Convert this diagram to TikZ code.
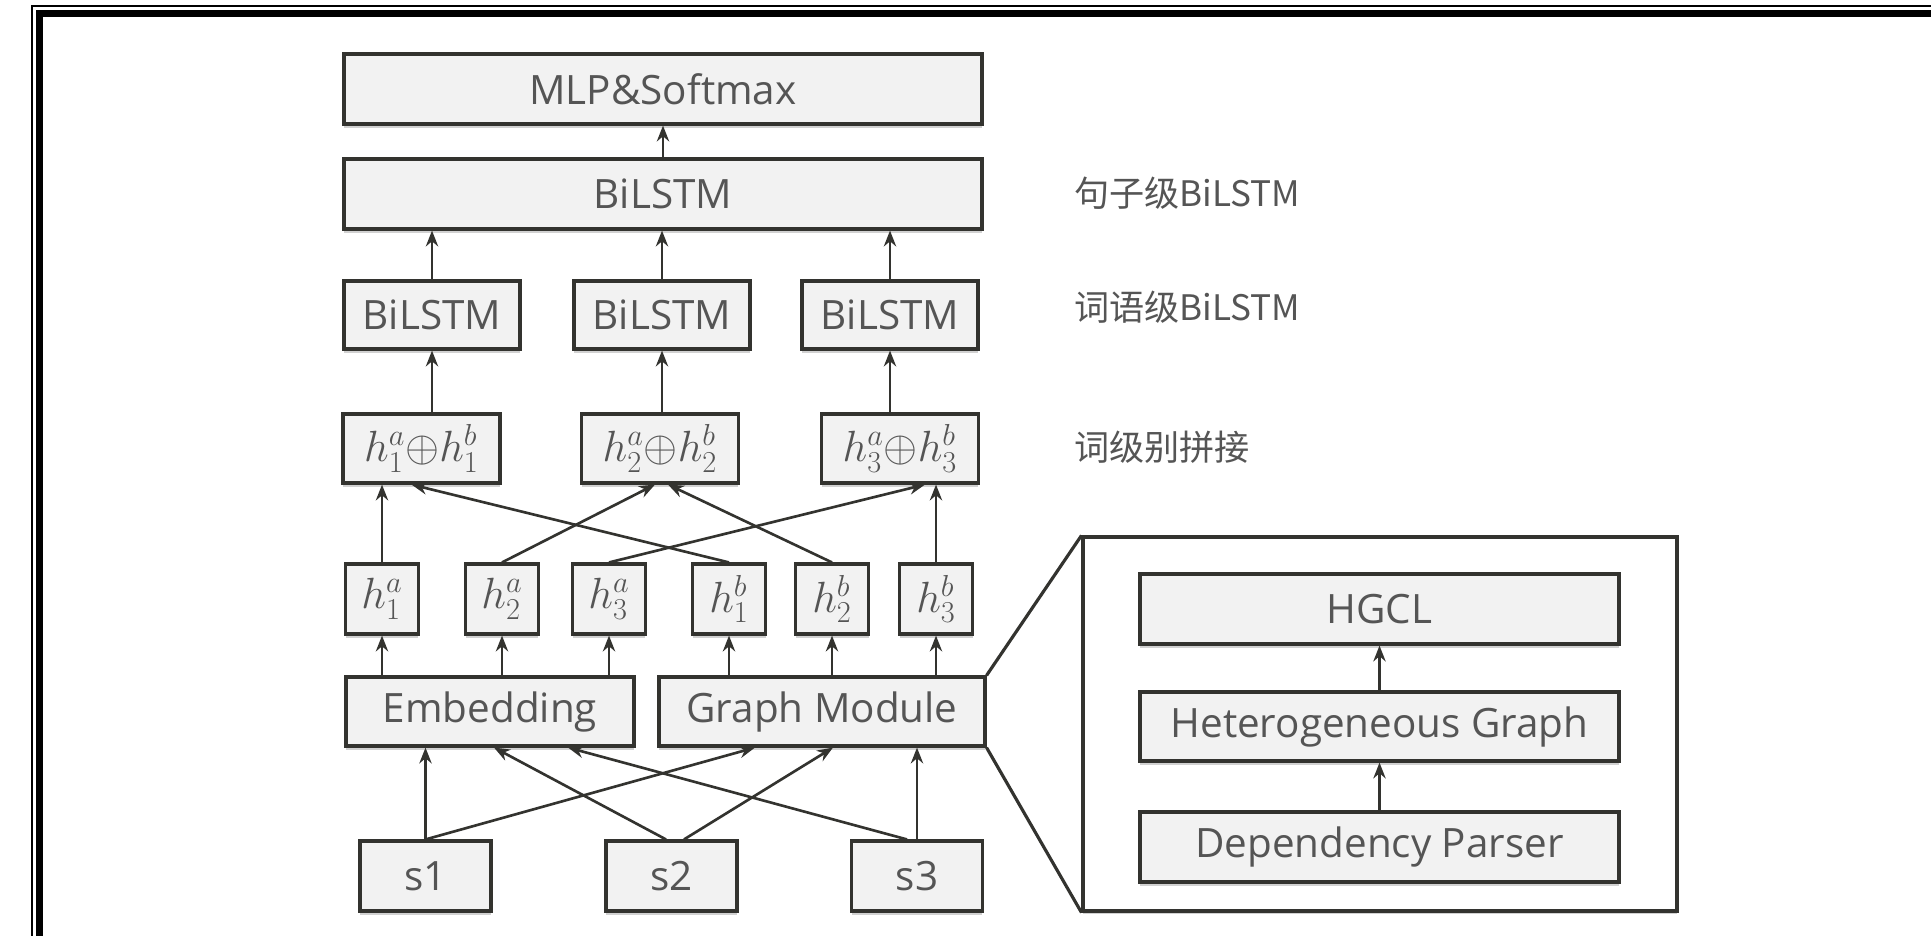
\documentclass[tikz,border=0pt]{standalone}
\usepackage{fontspec}
\setmainfont{Open Sans}
\newfontfamily\cjk{Noto Sans CJK SC}
\usetikzlibrary{arrows.meta,shadows}
\definecolor{boxfill}{HTML}{F2F2F2}
\definecolor{boxline}{HTML}{33332F}
\definecolor{txtgray}{HTML}{555555}
\tikzset{
  blk/.style={draw=boxline,fill=boxfill,line width=1.8pt,text=txtgray,inner sep=0pt,
    font=\fontsize{23}{27}\selectfont,
    drop shadow={shadow xshift=0pt,shadow yshift=-2pt,opacity=0.18,fill=black}},
  mathblk/.style={blk,font=\fontsize{27}{31}\selectfont},
  hblk/.style={mathblk,minimum width=1.46cm,minimum height=1.4cm},
  arr/.style={-{Stealth[length=9pt,width=7pt]},line width=1.5pt,draw=boxline},
  note/.style={anchor=west,text=txtgray,font=\cjk\fontsize{20}{24}\selectfont},
}
\begin{document}
\begin{tikzpicture}[x=0.02cm,y=-0.02cm]
 \useasboundingbox (0,0) rectangle (1931,936);
 % frame
 \draw[line width=1.1pt] (32,936)--(32,6)--(1931,6);
 \draw[line width=4pt] (39.5,936)--(39.5,13.5)--(1931,13.5);
 % top
 \node[blk,minimum width=12.76cm,minimum height=1.4cm] (mlp) at (663,89) {MLP\&Softmax};
 \node[blk,minimum width=12.76cm,minimum height=1.4cm] (sent) at (663,194) {BiLSTM};
 \node[blk,minimum width=3.52cm,minimum height=1.36cm] (w1) at (432,315) {BiLSTM};
 \node[blk,minimum width=3.52cm,minimum height=1.36cm] (w2) at (662,315) {BiLSTM};
 \node[blk,minimum width=3.52cm,minimum height=1.36cm] (w3) at (890,315) {BiLSTM};
 \node[mathblk,minimum width=3.14cm,minimum height=1.38cm] (c1) at (421.5,448.5) {$h_1^a{\oplus}h_1^b$};
 \node[mathblk,minimum width=3.14cm,minimum height=1.38cm] (c2) at (660,448.5) {$h_2^a{\oplus}h_2^b$};
 \node[mathblk,minimum width=3.14cm,minimum height=1.38cm] (c3) at (900,448.5) {$h_3^a{\oplus}h_3^b$};
 % hidden states
 \node[hblk] (h1a) at (382,599) {$h_1^a$};
 \node[hblk] (h2a) at (502,599) {$h_2^a$};
 \node[hblk] (h3a) at (609,599) {$h_3^a$};
 \node[hblk] (h1b) at (729,599) {$h_1^b$};
 \node[hblk] (h2b) at (832,599) {$h_2^b$};
 \node[hblk] (h3b) at (936,599) {$h_3^b$};
 \node[blk,minimum width=5.76cm,minimum height=1.38cm] (emb) at (490,711.5) {Embedding};
 \node[blk,minimum width=6.52cm,minimum height=1.38cm] (gm) at (822,711.5) {Graph Module};
 % sentences
 \node[blk,minimum width=2.62cm,minimum height=1.4cm] (s1) at (425.5,876) {s1};
 \node[blk,minimum width=2.62cm,minimum height=1.4cm] (s2) at (671.5,876) {s2};
 \node[blk,minimum width=2.62cm,minimum height=1.4cm] (s3) at (917,876) {s3};
 % graph module detail
 \node[draw=boxline,fill=white,line width=1.8pt,minimum width=11.88cm,minimum height=7.48cm,
   drop shadow={shadow xshift=0pt,shadow yshift=-2pt,opacity=0.18,fill=black}] (zoom) at (1380,724) {};
 \node[blk,minimum width=9.58cm,minimum height=1.4cm] (hgcl) at (1379.5,609) {HGCL};
 \node[blk,minimum width=9.58cm,minimum height=1.38cm] (hg) at (1379.5,726.5) {Heterogeneous Graph};
 \node[blk,minimum width=9.58cm,minimum height=1.4cm] (dp) at (1379.5,847) {Dependency Parser};
 \draw[draw=boxline,line width=1.8pt] (gm.north east)--(zoom.north west);
 \draw[draw=boxline,line width=1.8pt] (gm.south east)--(zoom.south west);
 \draw[arr] (hg)--(hgcl);
 \draw[arr] (dp)--(hg);
 % labels
 \node[note] (lsent) at (1068,193) {句子级BiLSTM};
 \node[note] (lword) at (1068,307) {词语级BiLSTM};
 \node[note] (lcat) at (1068,447) {词级别拼接};
 % arrows
 \draw[arr] (sent)--(mlp);
 \foreach \w in {w1,w2,w3}
   \draw[arr] (\w.north)--(\w.north |- sent.south);
 \draw[arr] (w1.south |- c1.north)--(w1.south);
 \draw[arr] (w2.south |- c2.north)--(w2.south);
 \draw[arr] (w3.south |- c3.north)--(w3.south);
 \draw[arr] (h1a.north)--(h1a.north |- c1.south);
 \draw[arr] (h1b.north)--([xshift=-0.2cm]c1.south);
 \draw[arr] (h2a.north)--([xshift=-0.1cm]c2.south);
 \draw[arr] (h2b.north)--([xshift=0.16cm]c2.south);
 \draw[arr] (h3a.north)--([xshift=0.5cm]c3.south);
 \draw[arr] (h3b.north)--(h3b.north |- c3.south);
 \foreach \h in {h1a,h2a,h3a}
   \draw[arr] (\h.south |- emb.north)--(\h.south);
 \foreach \h in {h1b,h2b,h3b}
   \draw[arr] (\h.south |- gm.north)--(\h.south);
 \draw[arr] (s1.north)--(s1.north |- emb.south);
 \draw[arr] (s1.north)--([xshift=-1.34cm]gm.south);
 \draw[arr] ([xshift=-0.11cm]s2.north)--([xshift=0.08cm]emb.south);
 \draw[arr] ([xshift=0.25cm]s2.north)--([xshift=0.22cm]gm.south);
 \draw[arr] ([xshift=-0.2cm]s3.north)--([xshift=1.56cm]emb.south);
 \draw[arr] (s3.north)--(s3.north |- gm.south);
\end{tikzpicture}
\end{document}
